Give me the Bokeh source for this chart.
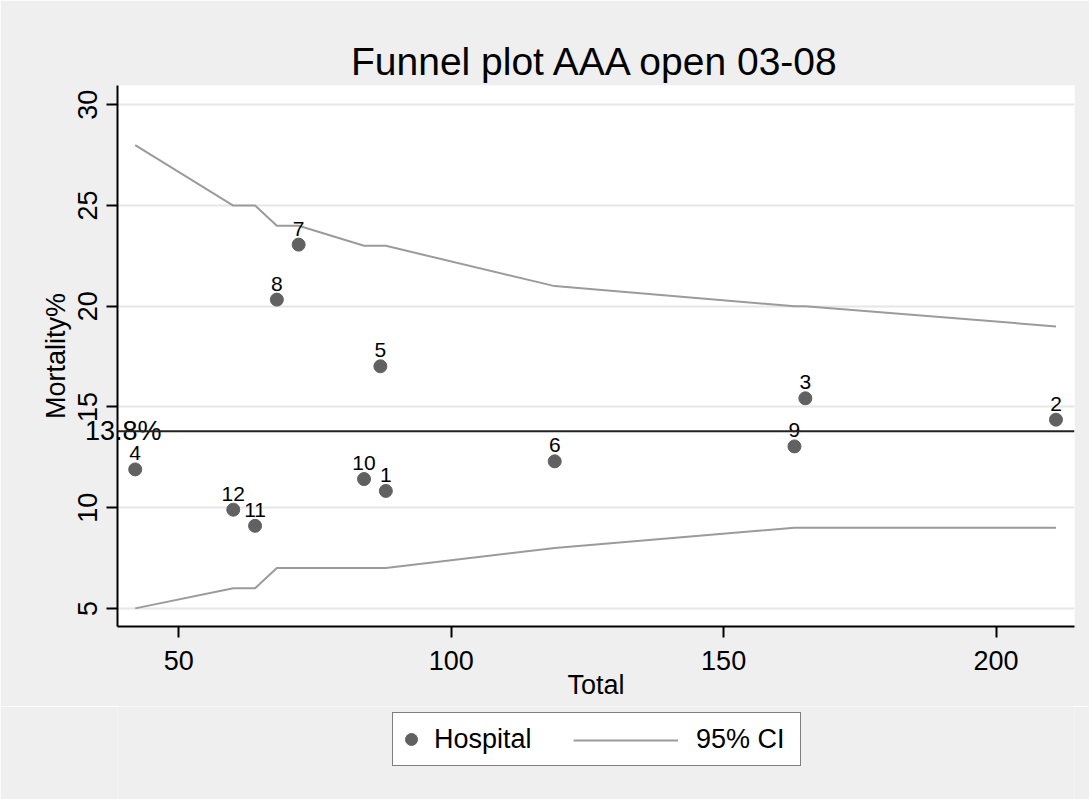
from bokeh.plotting import figure
from bokeh.layouts import column
from bokeh.models import (ColumnDataSource, Range1d, Legend, LegendItem, Span,
                          FixedTicker, LinearAxis)
from bokeh.embed import file_html
from bokeh.resources import INLINE
from bokeh.core.properties import value

# ---------------- data ----------------
hospital = ["1", "2", "3", "4", "5", "6", "7", "8", "9", "10", "11", "12"]
total = [88, 211, 165, 42, 87, 119, 72, 68, 163, 84, 64, 60]
mortality = [10.83, 14.37, 15.43, 11.9, 17.02, 12.3, 23.06, 20.33, 13.04, 11.42, 9.1, 9.9]

ci_total = [42, 60, 64, 68, 72, 84, 87, 88, 119, 163, 165, 211]
ci_upper = [28, 25, 25, 24, 24, 23, 23, 23, 21, 20, 20, 19]
ci_lower = [5, 6, 6, 7, 7, 7, 7, 7, 8, 9, 9, 9]

overall = 13.8
x_ticks = [50, 100, 150, 200]
y_ticks = [5, 10, 15, 20, 25, 30]

title_text = "Funnel plot AAA open 03-08"
x_label = "Total"
y_label = "Mortality%"
legend_labels = ["Hospital", "95% CI"]

FONT = "Liberation Sans"
BG = "#efefef"
PT = "#616161"
CI = "#9b9b9b"

# ---------------- main plot ----------------
p = figure(frame_width=957, frame_height=541, output_backend="svg", toolbar_location=None,
           x_range=Range1d(38.75, 214.4), y_range=Range1d(4.1, 30.96),
           min_border_left=117, min_border_right=15, min_border_top=85, min_border_bottom=80,
           background_fill_color="white", border_fill_color=BG, outline_line_color=None)

p.title.text = title_text
p.title.align = "center"
p.title.text_font = FONT
p.title.text_font_size = "39px"
p.title.text_font_style = "normal"
p.title.text_color = "black"
p.title.standoff = 6

for ax in (p.xaxis[0], p.yaxis[0]):
    ax.axis_line_color = "black"
    ax.axis_line_width = 2
    ax.major_tick_line_color = "black"
    ax.major_tick_line_width = 2
    ax.major_tick_out = 11
    ax.major_tick_in = 0
    ax.minor_tick_line_color = None
    ax.major_label_text_font = FONT
    ax.major_label_text_font_size = "27px"
    ax.major_label_text_color = "black"
    ax.axis_label_text_font = FONT
    ax.axis_label_text_font_size = "27px"
    ax.axis_label_text_font_style = "normal"
    ax.axis_label_text_color = "black"

p.xaxis.ticker = FixedTicker(ticks=x_ticks)
p.yaxis.ticker = FixedTicker(ticks=y_ticks)
p.xaxis.axis_label = x_label
p.yaxis.axis_label = y_label
p.yaxis.major_label_orientation = "vertical"
p.xaxis.major_label_standoff = 13
p.xaxis.axis_label_standoff = -3
p.yaxis.major_label_standoff = 9
p.yaxis.axis_label_standoff = 5

p.xgrid.visible = False
p.ygrid.ticker = FixedTicker(ticks=y_ticks)
p.ygrid.grid_line_color = "#e6e6e6"
p.ygrid.grid_line_width = 2

# confidence limits
p.line(ci_total, ci_upper, line_color=CI, line_width=2)
p.line(ci_total, ci_lower, line_color=CI, line_width=2)

# overall mortality line and its label (an extra, unlined left axis)
p.add_layout(Span(location=overall, dimension="width", line_color="#222222", line_width=2))
mean_axis = LinearAxis(ticker=FixedTicker(ticks=[overall]),
                       major_label_overrides={overall: f"{overall}%"},
                       axis_line_color=None, major_tick_line_color=None,
                       minor_tick_line_color=None, major_tick_out=0, major_tick_in=0,
                       major_label_orientation="horizontal",
                       major_label_standoff=-124,
                       major_label_text_font=FONT, major_label_text_font_size="27px",
                       major_label_text_color="black")
p.add_layout(mean_axis, "left")

# hospitals
src = ColumnDataSource(dict(x=total, y=mortality, name=hospital))
p.scatter("x", "y", source=src, size=13, fill_color=PT, line_color=PT)
p.text("x", "y", text="name", source=src, text_align="center", text_baseline="bottom",
       y_offset=-9, text_font=value(FONT), text_font_size="21px", text_color="black")

# ---------------- legend strip ----------------
# its own small figure; the sample glyphs reuse the data but lie outside its (0..1) view
pl = figure(width=1089, height=93, output_backend="svg", toolbar_location=None,
            title_location=None, x_range=Range1d(0, 1), y_range=Range1d(0, 1),
            min_border=0, background_fill_color=BG, border_fill_color=BG,
            outline_line_color=None)
pl.axis.visible = False
pl.grid.visible = False

leg_pt = pl.scatter(total, mortality, size=13, fill_color=PT, line_color=PT)
leg_ci = pl.line(ci_total, ci_upper, line_color=CI, line_width=2)
leg_none = pl.line(ci_total, ci_lower, line_alpha=0)

leg_box = Legend(items=[LegendItem(label=legend_labels[0], renderers=[leg_pt]),
                        LegendItem(label=legend_labels[1], renderers=[leg_none])],
                 orientation="horizontal", location=(275, 33), margin=0,
                 padding=3, glyph_width=30, glyph_height=30, label_standoff=8,
                 spacing=123, label_height=46, label_width=101,
                 border_line_color="black", border_line_width=1.5,
                 background_fill_color="white", background_fill_alpha=1,
                 label_text_font=FONT, label_text_font_size="27px",
                 label_text_color="black")
pl.add_layout(leg_box, "center")

leg_line = Legend(items=[LegendItem(label=" ", renderers=[leg_ci])],
                  location=(456, 44), margin=0, padding=0, glyph_width=105, glyph_height=30,
                  label_standoff=0, label_width=0, label_height=0,
                  label_text_font_size="1px", label_text_alpha=0,
                  border_line_alpha=0, background_fill_alpha=0)
pl.add_layout(leg_line, "center")

open("out.html", "w").write(file_html(column(p, pl, spacing=0), INLINE))
